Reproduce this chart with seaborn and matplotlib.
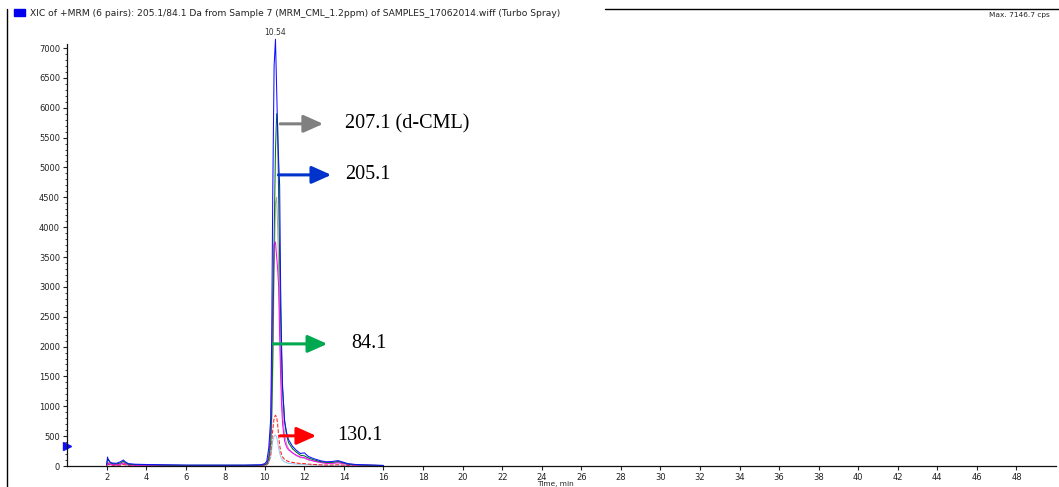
import numpy as np
import pandas as pd
import seaborn as sns
import matplotlib.pyplot as plt
from matplotlib.lines import Line2D

tempo = [2.0, 2.05, 2.1, 2.2, 2.3, 2.5, 2.7, 2.85, 2.95, 3.1, 3.4, 4.0, 5.0, 6.0,
         7.0, 8.0, 9.0, 9.8, 10.0, 10.1, 10.2, 10.3, 10.35, 10.4, 10.47, 10.54,
         10.6, 10.65, 10.7, 10.75, 10.8, 10.85, 10.9, 11.0, 11.1, 11.2, 11.4,
         11.6, 11.8, 12.0, 12.2, 12.5, 12.8, 13.1, 13.4, 13.7, 13.9, 14.2, 14.6,
         15.0, 15.5, 16.0]

i_205 = [20, 150, 90, 60, 50, 45, 70, 100, 70, 40, 30, 25, 20, 15,
         15, 15, 15, 20, 40, 80, 300, 800, 2200, 4500, 6700, 7147,
         6300, 5600, 5100, 4700, 3000, 2000, 1300, 750, 560, 440, 330,
         260, 210, 220, 160, 120, 90, 70, 75, 90, 70, 40, 25,
         20, 15, 10]
i_84 = [15, 100, 110, 50, 40, 35, 50, 80, 55, 30, 25, 20, 15, 12,
        12, 12, 12, 15, 25, 40, 120, 400, 900, 1800, 3800, 5300,
        5900, 5700, 4500, 3500, 2500, 1800, 1300, 760, 520, 390, 290,
        230, 180, 170, 135, 100, 75, 60, 60, 75, 60, 32, 20,
        15, 12, 8]
i_207 = [10, 60, 55, 35, 30, 25, 35, 55, 40, 25, 20, 15, 12, 10,
         10, 10, 10, 12, 20, 30, 90, 300, 700, 1500, 3200, 4400,
         4500, 4000, 3300, 2500, 1800, 1300, 900, 520, 370, 290, 220,
         170, 140, 130, 100, 80, 60, 45, 45, 55, 45, 25, 15,
         12, 10, 6]
i_magenta = [8, 40, 45, 30, 25, 20, 30, 50, 35, 20, 15, 12, 10, 8,
             8, 8, 8, 10, 20, 40, 150, 600, 1500, 2800, 3700, 3750,
             3500, 3300, 3000, 2200, 1500, 1000, 700, 420, 320, 270, 220,
             180, 150, 140, 110, 80, 60, 45, 45, 55, 45, 25, 15,
             12, 10, 6]
i_130 = [5, 20, 25, 15, 12, 10, 15, 25, 18, 10, 8, 6, 5, 5,
         5, 5, 5, 6, 10, 20, 60, 200, 400, 600, 800, 850,
         820, 700, 500, 350, 250, 190, 150, 110, 90, 75, 60,
         50, 42, 40, 32, 25, 20, 16, 16, 20, 16, 10, 7,
         5, 4, 3]
i_azul_claro = [5, 30, 30, 20, 15, 12, 18, 30, 22, 12, 10, 8, 6, 5,
                5, 5, 5, 6, 10, 20, 50, 150, 280, 420, 500, 520,
                480, 400, 300, 220, 160, 120, 95, 70, 55, 45, 38,
                32, 28, 26, 22, 18, 14, 12, 12, 14, 12, 8, 6,
                5, 4, 3]

yticks = list(range(0, 7001, 500))
xticks = list(range(2, 49, 2))

titulo = ("XIC of +MRM (6 pairs): 205.1/84.1 Da from Sample 7 (MRM_CML_1.2ppm) "
          "of SAMPLES_17062014.wiff (Turbo Spray)")

sns.set_theme(style="white")
plt.rcParams['font.family'] = ['DejaVu Sans']

fig = plt.figure(figsize=(10.59, 4.87), dpi=100)
ax = fig.add_axes([67 / 1059, 21 / 487, (1056 - 67) / 1059, (466 - 44) / 487])

series = [
    (i_azul_claro, '#9cc8f2', '-'),
    (i_130, '#ff2020', '--'),
    (i_207, '#a8a8a8', '-'),
    (i_magenta, '#ff00ff', '-'),
    (i_84, '#006e1e', '-'),
    (i_205, '#1010ff', '-'),
]
for vals, cor, ls in series:
    sns.lineplot(x=tempo, y=vals, ax=ax, color=cor, linestyle=ls, lw=0.75,
                 clip_on=False)

ax.set_xlim(0, 50)
ax.set_ylim(0, 7067)
ax.set_xticks(xticks)
ax.set_yticks(yticks)
ax.set_yticks(range(0, 7001, 100), minor=True)
ax.tick_params(axis='both', which='major', labelsize=6, colors='#222222',
               direction='out', length=3, width=0.8, left=True, bottom=True,
               pad=2)
ax.tick_params(axis='y', which='minor', direction='out', length=1.5,
               width=0.6, left=True, color='#222222')
for s in ['top', 'right']:
    ax.spines[s].set_visible(False)
for s in ['left', 'bottom']:
    ax.spines[s].set_color('#111111')
    ax.spines[s].set_linewidth(0.9)
ax.set_xlabel('')
ax.set_ylabel('')

# marcador azul no eixo y
ax.plot([0], [340], marker='>', color='#1010ff', markersize=6, clip_on=False)

# rotulo do pico
ax.text(10.54, 7180, '10.54', fontsize=5.5, color='#333333', ha='center',
        va='bottom')

# setas e rotulos das transicoes
setas = [
    (10.78, 12.95, 5730, '#808080', 14.07, '207.1 (d-CML)'),
    (10.69, 13.36, 4875, '#0033cc', 14.07, '205.1'),
    (10.43, 13.16, 2045, '#00a84f', 14.37, '84.1'),
    (10.78, 12.60, 505, '#ff0000', 13.66, '130.1'),
]
for x0, x1, y, cor, xt, txt in setas:
    ax.annotate('', xy=(x1, y), xytext=(x0, y),
                arrowprops=dict(arrowstyle='-|>,head_width=0.38,head_length=0.85',
                                color=cor, lw=2.2, mutation_scale=14,
                                shrinkA=0, shrinkB=0))
    ax.text(xt, y, txt, fontsize=14.5, family='Liberation Serif', color='black',
            ha='left', va='center')

# cabecalho estilo Analyst
fig.add_artist(Line2D([7 / 1059, 7 / 1059], [0, 1 - 9 / 487], color='black', lw=1))
fig.add_artist(Line2D([605 / 1059, 1], [1 - 9 / 487, 1 - 9 / 487], color='black', lw=1))
fig.patches.append(plt.Rectangle((14 / 1059, 1 - 16 / 487), 11 / 1059, 7 / 487,
                                 transform=fig.transFigure, color='#0000ee'))
fig.text(30 / 1059, 1 - 13 / 487, titulo, fontsize=6.6, color='#222222',
         va='center', ha='left')
fig.text(1050 / 1059, 1 - 15 / 487, 'Max. 7146.7 cps', fontsize=5.3,
         color='#222222', va='center', ha='right')
fig.text(537 / 1059, 1 - 484 / 487, 'Time, min', fontsize=5.3,
         color='#222222', va='center', ha='left')

fig.savefig('out.png', dpi=100)
